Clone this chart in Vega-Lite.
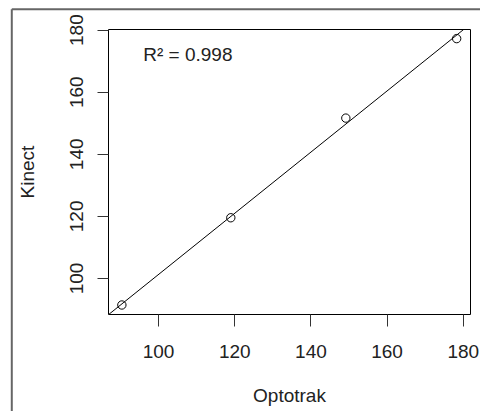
{
  "$schema": "https://vega.github.io/schema/vega-lite/v6.json",
  "autosize": "none",
  "padding": {"left": 108, "top": 29, "right": 10, "bottom": 97},
  "width": 362,
  "height": 285,
  "background": "white",
  "config": {
    "view": {"stroke": "black", "strokeWidth": 1},
    "font": "Liberation Sans",
    "axis": {
      "grid": false,
      "domain": false,
      "labelFont": "Liberation Sans",
      "labelFontSize": 19,
      "labelColor": "#222",
      "titleFont": "Liberation Sans",
      "titleFontSize": 19,
      "titleFontWeight": "normal",
      "titleColor": "#222",
      "tickColor": "#333",
      "tickWidth": 1
    }
  },
  "datasets": {
    "points": [
      {"Optotrak": 90.5, "Kinect": 91.3},
      {"Optotrak": 119.1, "Kinect": 119.4},
      {"Optotrak": 149.3, "Kinect": 151.5},
      {"Optotrak": 178.4, "Kinect": 177.1}
    ],
    "note": [{"label": "R² = 0.998"}]
  },
  "data": {"name": "points"},
  "layer": [
    {
      "data": {"name": "note"},
      "mark": {"type": "rule", "color": "#666", "strokeWidth": 2, "clip": false},
      "encoding": {
        "x": {"datum": 61.6, "type": "quantitative"},
        "y": {"datum": 186.6, "type": "quantitative"},
        "y2": {"datum": 50}
      }
    },
    {
      "data": {"name": "note"},
      "mark": {"type": "rule", "color": "#666", "strokeWidth": 2, "clip": false},
      "encoding": {
        "x": {"datum": 61.6, "type": "quantitative"},
        "x2": {"datum": 190},
        "y": {"datum": 186.6, "type": "quantitative"}
      }
    },
    {
      "transform": [{"regression": "Kinect", "on": "Optotrak", "extent": [80, 190]}],
      "mark": {"type": "line", "color": "black", "strokeWidth": 1, "clip": true},
      "encoding": {
        "x": {"field": "Optotrak", "type": "quantitative"},
        "y": {"field": "Kinect", "type": "quantitative"}
      }
    },
    {
      "mark": {"type": "point", "shape": "circle", "filled": false, "color": "black", "strokeWidth": 1, "size": 70, "opacity": 1},
      "encoding": {
        "x": {
          "field": "Optotrak", "type": "quantitative",
          "scale": {"domain": [86.86, 181.9], "nice": false, "zero": false},
          "axis": {"values": [100, 120, 140, 160, 180], "tickSize": 12, "labelPadding": 16, "titlePadding": 25, "title": "Optotrak"}
        },
        "y": {
          "field": "Kinect", "type": "quantitative",
          "scale": {"domain": [88.4, 180.2], "nice": false, "zero": false},
          "axis": {"values": [100, 120, 140, 160, 180], "tickSize": 11, "labelAngle": -90, "labelAlign": "center", "labelBaseline": "bottom", "labelPadding": 11, "titlePadding": 30, "title": "Kinect"}
        }
      }
    },
    {
      "data": {"name": "note"},
      "mark": {"type": "text", "align": "left", "baseline": "alphabetic", "fontSize": 19, "fontWeight": "normal", "font": "Liberation Sans", "color": "#222"},
      "encoding": {
        "x": {"datum": 96.1, "type": "quantitative"},
        "y": {"datum": 169.9, "type": "quantitative"},
        "text": {"field": "label"}
      }
    }
  ]
}
